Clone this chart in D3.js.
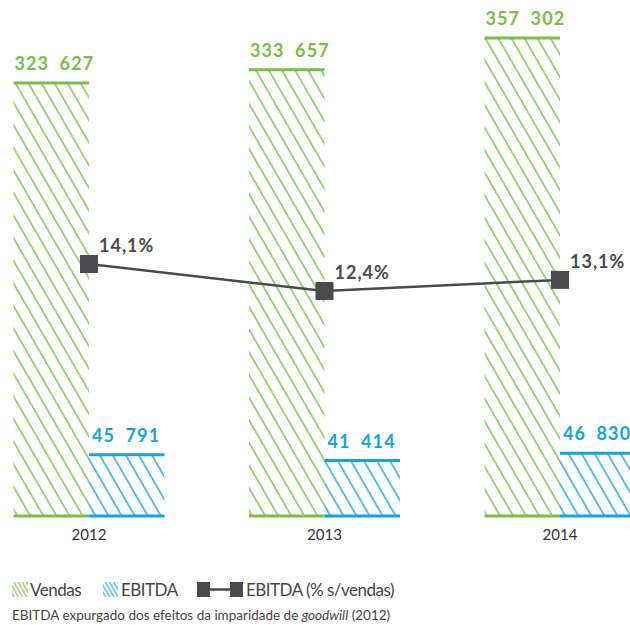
<!DOCTYPE html>
<html>
<head>
<meta charset="utf-8">
<script src="https://cdn.jsdelivr.net/npm/d3@7"></script>
<style>
  body { margin: 0; background: #fff; }
  svg { display: block; font-family: Lato, "Open Sans", sans-serif; }
</style>
</head>
<body>
<div id="chart"></div>
<script>
// chart values
var years = ["2012", "2013", "2014"];
var vendas = [323627, 333657, 357302];
var ebitda = [45791, 41414, 46830];
var margem = [14.1, 12.4, 13.1];
var vendasLabels = ["323 627", "333 657", "357 302"];
var ebitdaLabels = ["45 791", "41 414", "46 830"];
var margemLabels = ["14,1%", "12,4%", "13,1%"];

var width = 630, height = 625;
var green = "#77c043", blue = "#13a5e0", dark = "#4a4a4c";

var svg = d3.select("#chart").append("svg")
    .attr("width", width)
    .attr("height", height);

/* hatch patterns */
var defs = svg.append("defs");
function hatch(id, color, gap, sw) {
    var p = defs.append("pattern")
        .attr("id", id)
        .attr("patternUnits", "userSpaceOnUse")
        .attr("width", gap)
        .attr("height", gap)
        .attr("patternTransform", "rotate(-30)");
    p.append("line")
        .attr("x1", gap / 2).attr("y1", 0)
        .attr("x2", gap / 2).attr("y2", gap)
        .attr("stroke", color)
        .attr("stroke-width", sw);
}
hatch("hatchGreen", green, 11.3, 1.4);
hatch("hatchBlue", blue, 11.3, 1.4);
hatch("hatchGreenSm", green, 3.6, 1.1);
hatch("hatchBlueSm", blue, 3.6, 1.1);

// scales
var baseY = 516;
var x = d3.scalePoint().domain(years).range([89, 560]);
var y = d3.scaleLinear().domain([0, 357302]).range([baseY, 38]);
var yPct = d3.scaleLinear().domain([12.4, 14.1]).range([291, 264]);

var half = 75.5;

/* bars */
function drawBars(vals, labels, color, fill, offset, cls) {
    var g = svg.append("g").attr("class", cls);
    var bars = g.selectAll("g").data(vals).enter().append("g");
    bars.append("rect")
        .attr("x", function(d, i) { return x(years[i]) + offset; })
        .attr("y", function(d) { return y(d); })
        .attr("width", half)
        .attr("height", function(d) { return baseY - y(d); })
        .attr("fill", "url(#" + fill + ")");
    // top and bottom rules
    bars.append("line")
        .attr("x1", function(d, i) { return x(years[i]) + offset; })
        .attr("x2", function(d, i) { return x(years[i]) + offset + half; })
        .attr("y1", function(d) { return y(d); })
        .attr("y2", function(d) { return y(d); })
        .attr("stroke", color).attr("stroke-width", 3);
    bars.append("line")
        .attr("x1", function(d, i) { return x(years[i]) + offset; })
        .attr("x2", function(d, i) { return x(years[i]) + offset + half; })
        .attr("y1", baseY).attr("y2", baseY)
        .attr("stroke", color).attr("stroke-width", 3);
    bars.append("text")
        .attr("x", function(d, i) { return x(years[i]) + offset + (cls == "ebitda" ? 3 : 1); })
        .attr("y", function(d) { return y(d) - 13; })
        .attr("fill", color)
        .attr("font-size", 18)
        .attr("font-weight", 700)
        .attr("letter-spacing", 1.1)
        .attr("word-spacing", 5)
        .text(function(d, i) { return labels[i]; });
}
drawBars(vendas, vendasLabels, green, "hatchGreen", -half, "vendas");
drawBars(ebitda, ebitdaLabels, blue, "hatchBlue", 0, "ebitda");

/* year labels */
svg.append("g").selectAll("text").data(years).enter().append("text")
    .attr("x", function(d) { return x(d); })
    .attr("y", 540)
    .attr("text-anchor", "middle")
    .attr("font-size", 15)
    .attr("fill", "#333")
    .text(function(d) { return d; });

/* margin line */
var line = d3.line()
    .x(function(d, i) { return x(years[i]); })
    .y(function(d) { return yPct(d); });
svg.append("path")
    .datum(margem)
    .attr("d", line)
    .attr("fill", "none")
    .attr("stroke", dark)
    .attr("stroke-width", 2.5);
var pts = svg.append("g").selectAll("g").data(margem).enter().append("g");
pts.append("rect")
    .attr("x", function(d, i) { return x(years[i]) - 9; })
    .attr("y", function(d) { return yPct(d) - 9; })
    .attr("width", 18).attr("height", 18)
    .attr("fill", dark);
pts.append("text")
    .attr("x", function(d, i) { return x(years[i]) + 10; })
    .attr("y", function(d) { return yPct(d) - 12; })
    .attr("font-size", 18)
    .attr("font-weight", 700)
    .attr("letter-spacing", 1)
    .attr("fill", dark)
    .text(function(d, i) { return margemLabels[i]; });

/* legend */
var lg = svg.append("g").attr("font-size", 17).attr("letter-spacing", -0.5).attr("fill", "#444");
lg.append("rect").attr("x", 12).attr("y", 582).attr("width", 16).attr("height", 15).attr("fill", "url(#hatchGreenSm)");
lg.append("text").attr("x", 30).attr("y", 596).text("Vendas");
lg.append("rect").attr("x", 103).attr("y", 582).attr("width", 15).attr("height", 15).attr("fill", "url(#hatchBlueSm)");
lg.append("text").attr("x", 121).attr("y", 596).text("EBITDA");
lg.append("line").attr("x1", 205).attr("x2", 235).attr("y1", 589.5).attr("y2", 589.5).attr("stroke", dark).attr("stroke-width", 2.5);
lg.append("rect").attr("x", 197).attr("y", 582).attr("width", 13).attr("height", 15).attr("fill", dark);
lg.append("rect").attr("x", 230).attr("y", 582).attr("width", 13).attr("height", 15).attr("fill", dark);
lg.append("text").attr("x", 246).attr("y", 596).text("EBITDA (% s/vendas)");

/* footnote */
var fn = svg.append("text").attr("x", 12).attr("y", 620).attr("font-size", 13.5).attr("fill", "#444");
fn.append("tspan").text("EBITDA expurgado dos efeitos da imparidade de ");
fn.append("tspan").attr("font-style", "italic").text("goodwill");
fn.append("tspan").text(" (2012)");
</script>
</body>
</html>
